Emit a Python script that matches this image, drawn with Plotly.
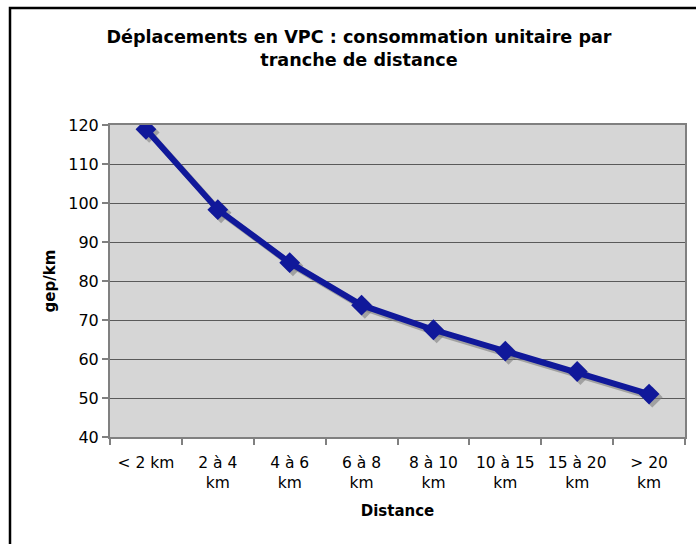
import plotly.graph_objects as go

categories = ["&lt; 2 km", "2 à 4<br>km", "4 à 6<br>km", "6 à 8<br>km",
              "8 à 10<br>km", "10 à 15<br>km", "15 à 20<br>km", "&gt; 20<br>km"]
values = [118.9, 98.3, 84.7, 73.8, 67.5, 62.0, 56.8, 51.0]
y_ticks = [40, 50, 60, 70, 80, 90, 100, 110, 120]

W, H = 696, 544
L, R, T, B = 110, 11, 125, 107
pw, ph = W - L - R, H - T - B

def px_x(p):
    return (p - L) / pw

def px_y(p):
    return (H - B - p) / ph

font = "DejaVu Sans, Verdana, sans-serif"
line_col = "#10189a"
shadow_col = "rgba(125,125,125,0.6)"

idx = list(range(len(categories)))

fig = go.Figure()
fig.add_trace(go.Scatter(
    x=[i + 0.045 for i in idx], y=[v - 0.8 for v in values],
    mode="lines+markers", line=dict(color=shadow_col, width=6),
    marker=dict(symbol="diamond", size=16, color=shadow_col),
    hoverinfo="skip", showlegend=False))
fig.add_trace(go.Scatter(
    x=idx, y=values, mode="lines+markers",
    line=dict(color=line_col, width=6),
    marker=dict(symbol="diamond", size=16, color=line_col),
    showlegend=False))

fig.update_layout(
    width=W, height=H,
    margin=dict(l=L, r=R, t=T, b=B),
    paper_bgcolor="white", plot_bgcolor="#d6d6d6",
    font=dict(family=font, color="black", size=14),
    title=dict(text="<b>Déplacements en VPC : consommation unitaire par<br>tranche de distance</b>",
               x=359 / W, xanchor="center",
               y=1 - 43 / H, yanchor="middle",
               font=dict(size=17.6, family=font)),
    xaxis=dict(range=[-0.5, 7.5], tickvals=idx, ticktext=categories, ticks="",
               minor=dict(tick0=-0.5, dtick=1, ticks="outside", ticklen=6,
                          tickcolor="#808080", tickwidth=1.5, showgrid=False),
               showline=True, linecolor="#808080", linewidth=2, mirror=True,
               showgrid=False, zeroline=False, tickfont=dict(size=15.5),
               ticklabelstandoff=10, automargin=False,
               title=dict(text="<b>Distance</b>", font=dict(size=15), standoff=15)),
    yaxis=dict(range=[40, 120], tickvals=y_ticks, ticks="outside", ticklen=6,
               tickcolor="#808080", tickwidth=1.5,
               showline=True, linecolor="#808080", linewidth=2, mirror=True,
               showgrid=True, gridcolor="#5a5a5a", gridwidth=1,
               tickfont=dict(size=16), zeroline=False, automargin=False,
               title=dict(text="<b>gep/km</b>", font=dict(size=15), standoff=9)),
    shapes=[dict(type="rect", xref="paper", yref="paper",
                 x0=px_x(10), x1=px_x(W + 40), y0=px_y(H + 40), y1=px_y(8),
                 line=dict(color="black", width=2.5), fillcolor="rgba(0,0,0,0)",
                 layer="above")],
)

fig.write_html("out.html", config={"displayModeBar": False},
               post_script="document.body.style.margin='0px';")
